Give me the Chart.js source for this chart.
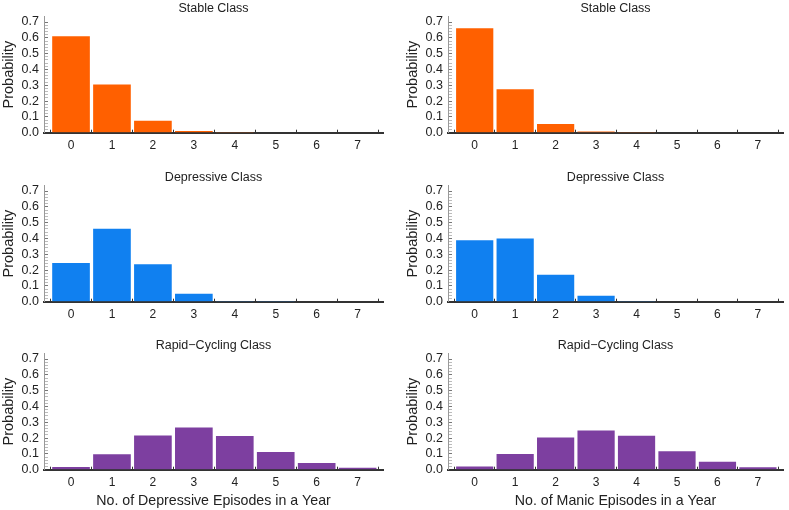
<!DOCTYPE html>
<html>
<head>
<meta charset="utf-8">
<script src="https://cdn.jsdelivr.net/npm/chart.js@4"></script>
<style>
  body { margin: 0; background: #fff; width: 789px; height: 510px; position: relative; overflow: hidden; }
  canvas { position: absolute; }
</style>
</head>
<body>
<canvas id="c1" width="390" height="160" style="left:0;top:0"></canvas>
<canvas id="c2" width="385" height="160" style="left:404px;top:0"></canvas>
<canvas id="c3" width="390" height="160" style="left:0;top:169px"></canvas>
<canvas id="c4" width="385" height="160" style="left:404px;top:169px"></canvas>
<canvas id="c5" width="390" height="173" style="left:0;top:337px"></canvas>
<canvas id="c6" width="385" height="173" style="left:404px;top:337px"></canvas>
<script>
  const episodes = [0, 1, 2, 3, 4, 5, 6, 7];
  const yTicks = [0.0, 0.1, 0.2, 0.3, 0.4, 0.5, 0.6, 0.7];

  // depressive episodes (left column)
  const stableDep = [0.61, 0.305, 0.075, 0.01, 0.001, 0, 0, 0];
  const depressiveDep = [0.245, 0.461, 0.237, 0.05, 0.005, 0.001, 0, 0];
  const rapidDep = [0.017, 0.098, 0.217, 0.267, 0.213, 0.112, 0.042, 0.013];

  // manic episodes (right column)
  const stableMan = [0.66, 0.275, 0.055, 0.008, 0.001, 0, 0, 0];
  const depressiveMan = [0.388, 0.40, 0.17, 0.037, 0.004, 0, 0, 0];
  const rapidMan = [0.021, 0.10, 0.204, 0.248, 0.215, 0.117, 0.05, 0.015];

  Chart.defaults.font.family = "'Liberation Sans', Arial, sans-serif";
  Chart.defaults.color = '#222';

  function isMajor(v) {
    return yTicks.some(t => Math.abs(t - v) < 1e-6);
  }

  function makePanel(id, title, values, color, xTitle, padRight, xHeight) {
    new Chart(document.getElementById(id), {
      type: 'bar',
      data: {
        datasets: [{
          data: episodes.map((e, i) => ({ x: e, y: values[i] })),
          backgroundColor: color,
          borderWidth: 0,
          barPercentage: 0.92,
          categoryPercentage: 1
        }]
      },
      options: {
        responsive: false,
        animation: false,
        devicePixelRatio: 1,
        layout: { padding: { left: 0, right: padRight, top: 0, bottom: 0 } },
        plugins: {
          legend: { display: false },
          tooltip: { enabled: false },
          title: {
            display: true,
            text: title,
            fullSize: false,
            font: { size: 12.5, weight: 'normal' },
            padding: { top: 0, bottom: 0 },
            color: '#222'
          }
        },
        scales: {
          x: {
            type: 'linear',
            offset: false,
            min: -0.66,
            max: 7.62,
            afterBuildTicks: s => { s.ticks = episodes.map(v => ({ value: v })); },
            afterFit: s => { s.height = xHeight; },
            ticks: { stepSize: 1, padding: 9, font: { size: 12 }, color: '#222' },
            grid: { drawOnChartArea: false, tickLength: -3, tickColor: '#333' },
            border: { color: '#333', width: 2 },
            title: {
              display: !!xTitle,
              text: xTitle || '',
              font: { size: 14.2 },
              padding: 0,
              color: '#222'
            }
          },
          y: {
            min: 0,
            max: 0.735,
            afterBuildTicks: s => { s.ticks = s.ticks.filter(t => t.value <= 0.721); },
            afterFit: s => { s.width = 44; },
            ticks: {
              stepSize: 0.02,
              autoSkip: false,
              padding: 9,
              font: { size: 12.5 },
              color: '#222',
              callback: v => isMajor(v) ? v.toFixed(1) : ''
            },
            grid: {
              drawOnChartArea: false,
              tickLength: -4,
              tickColor: ctx => isMajor(ctx.tick.value) ? '#777' : '#bbb'
            },
            border: { color: '#999', width: 1 },
            title: {
              display: true,
              text: 'Probability',
              font: { size: 14.5 },
              padding: 0,
              color: '#222'
            }
          }
        }
      }
    });
  }

  makePanel('c1', 'Stable Class', stableDep, '#ff6000', '', 7, 27.3);
  makePanel('c2', 'Stable Class', stableMan, '#ff6000', '', 6, 27.3);
  makePanel('c3', 'Depressive Class', depressiveDep, '#1080f0', '', 7, 27.3);
  makePanel('c4', 'Depressive Class', depressiveMan, '#1080f0', '', 6, 27.3);
  makePanel('c5', 'Rapid\u2212Cycling Class', rapidDep, '#7d3fa0', 'No. of Depressive Episodes in a Year', 7, 40.3);
  makePanel('c6', 'Rapid\u2212Cycling Class', rapidMan, '#7d3fa0', 'No. of Manic Episodes in a Year', 6, 40.3);
</script>
</body>
</html>
